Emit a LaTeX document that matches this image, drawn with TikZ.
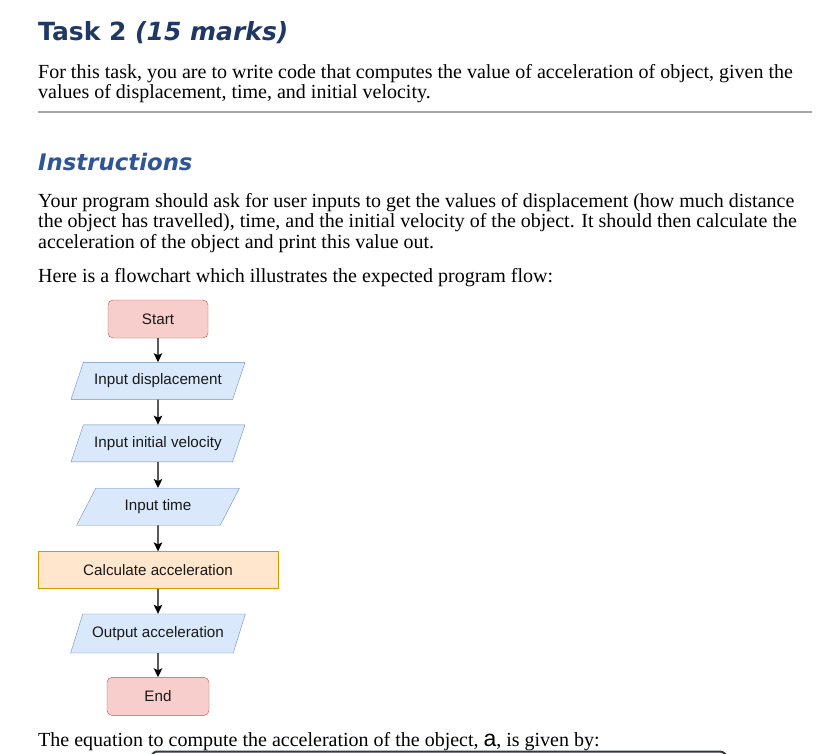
\documentclass[tikz,border=0pt]{standalone}
\usepackage{fontspec}
\setmainfont{Liberation Serif}
\newfontfamily\headfont{DejaVu Sans}
\newfontfamily\boxfont{Liberation Sans}
\usepackage{tikz}
\usetikzlibrary{arrows,arrows.meta,positioning,shapes.geometric}
\definecolor{titleblue}{HTML}{1F3864}
\definecolor{headblue}{HTML}{2F5597}
\definecolor{rulegray}{HTML}{A6A6A6}
\definecolor{termfill}{HTML}{F8CECC}
\definecolor{termline}{HTML}{B85450}
\definecolor{iofill}{HTML}{DAE8FC}
\definecolor{ioline}{HTML}{6C8EBF}
\definecolor{procfill}{HTML}{FFE6CC}
\definecolor{procline}{HTML}{D79B00}
\definecolor{boxedge}{HTML}{2B3A4A}

\begin{document}
\begin{tikzpicture}[
x=1pt, y=-1pt,
bodytext/.style={anchor=base west,inner sep=0pt,font=\fontsize{20}{22}\selectfont},
boxtext/.style={font=\boxfont\fontsize{15.2}{17}\selectfont,text=black!90,inner sep=2pt},
terminal/.style={boxtext,draw=termline,fill=termfill,rounded corners=5pt,minimum width=100pt,minimum height=38pt},
io/.style={boxtext,trapezium,trapezium left angle=59,trapezium right angle=121,trapezium stretches=true,draw=ioline,fill=iofill,minimum width=174pt,minimum height=37pt},
process/.style={boxtext,draw=procline,fill=procfill,minimum width=240pt,minimum height=37pt},
flow/.style={-{Stealth[length=9pt,width=8.5pt,inset=2pt]},line width=1.3pt}
]
    % Page
    \useasboundingbox [fill=white] (0,0) rectangle (829,753);

    % Headings and text
    \node (title) [anchor=base west,inner sep=0pt,text=titleblue,font=\headfont\bfseries\fontsize{25}{28}\selectfont]
        at (38,40) {Task 2 \textit{(15 marks)}};
    \node (intro1) [bodytext] at (38,78) {For this task, you are to write code that computes the value of acceleration of object, given the};
    \node (intro2) [bodytext] at (38,98) {values of displacement, time, and initial velocity.};
    \draw [rulegray, line width=1.5pt] (38,112) coordinate (ruleL) -- (812,112) coordinate (ruleR);

    \node (instr) [anchor=base west,inner sep=0pt,text=headblue,font=\headfont\bfseries\itshape\fontsize{22.8}{26}\selectfont]
        at (38,170) {Instructions};
    \node (para1) [bodytext] at (38,207) {Your program should ask for user inputs to get the values of displacement (how much distance};
    \node (para2) [bodytext] at (38,227.5) {the object has travelled), time, and the initial velocity of the object. It should then calculate the};
    \node (para3) [bodytext] at (38,248) {acceleration of the object and print this value out.};
    \node (para4) [bodytext] at (38,282) {Here is a flowchart which illustrates the expected program flow:};

    % Flowchart
    \node (start) [terminal] at (158,319) {Start};
    \node (disp) [io, below=24pt of start] {Input displacement};
    \node (vel) [io, below=25pt of disp] {Input initial velocity};
    \node (time) [io, minimum width=163pt, below=26pt of vel] {Input time};
    \node (calc) [process, below=26pt of time] {Calculate acceleration};
    \node (out) [io, minimum width=175pt, minimum height=39pt, below=25pt of calc] {Output acceleration};
    \node (end) [terminal, minimum width=102pt, below=24pt of out] {End};

    \draw[flow] (start) -- (disp);
    \draw[flow] (disp) -- (vel);
    \draw[flow] (vel) -- (time);
    \draw[flow] (time) -- (calc);
    \draw[flow] (calc) -- (out);
    \draw[flow] (out) -- (end);

    % Last line
    \node (eqn) [bodytext] at (38,746) {The equation to compute the acceleration of the object, {\boxfont\fontsize{23}{24}\selectfont a}, is given by:};
    \draw [boxedge, line width=2pt, rounded corners=3pt]
        (152,755) -- (154,751.5) coordinate (boxL) -- (723,751.5) coordinate (boxR) -- (726,755);

\end{tikzpicture}
\end{document}
